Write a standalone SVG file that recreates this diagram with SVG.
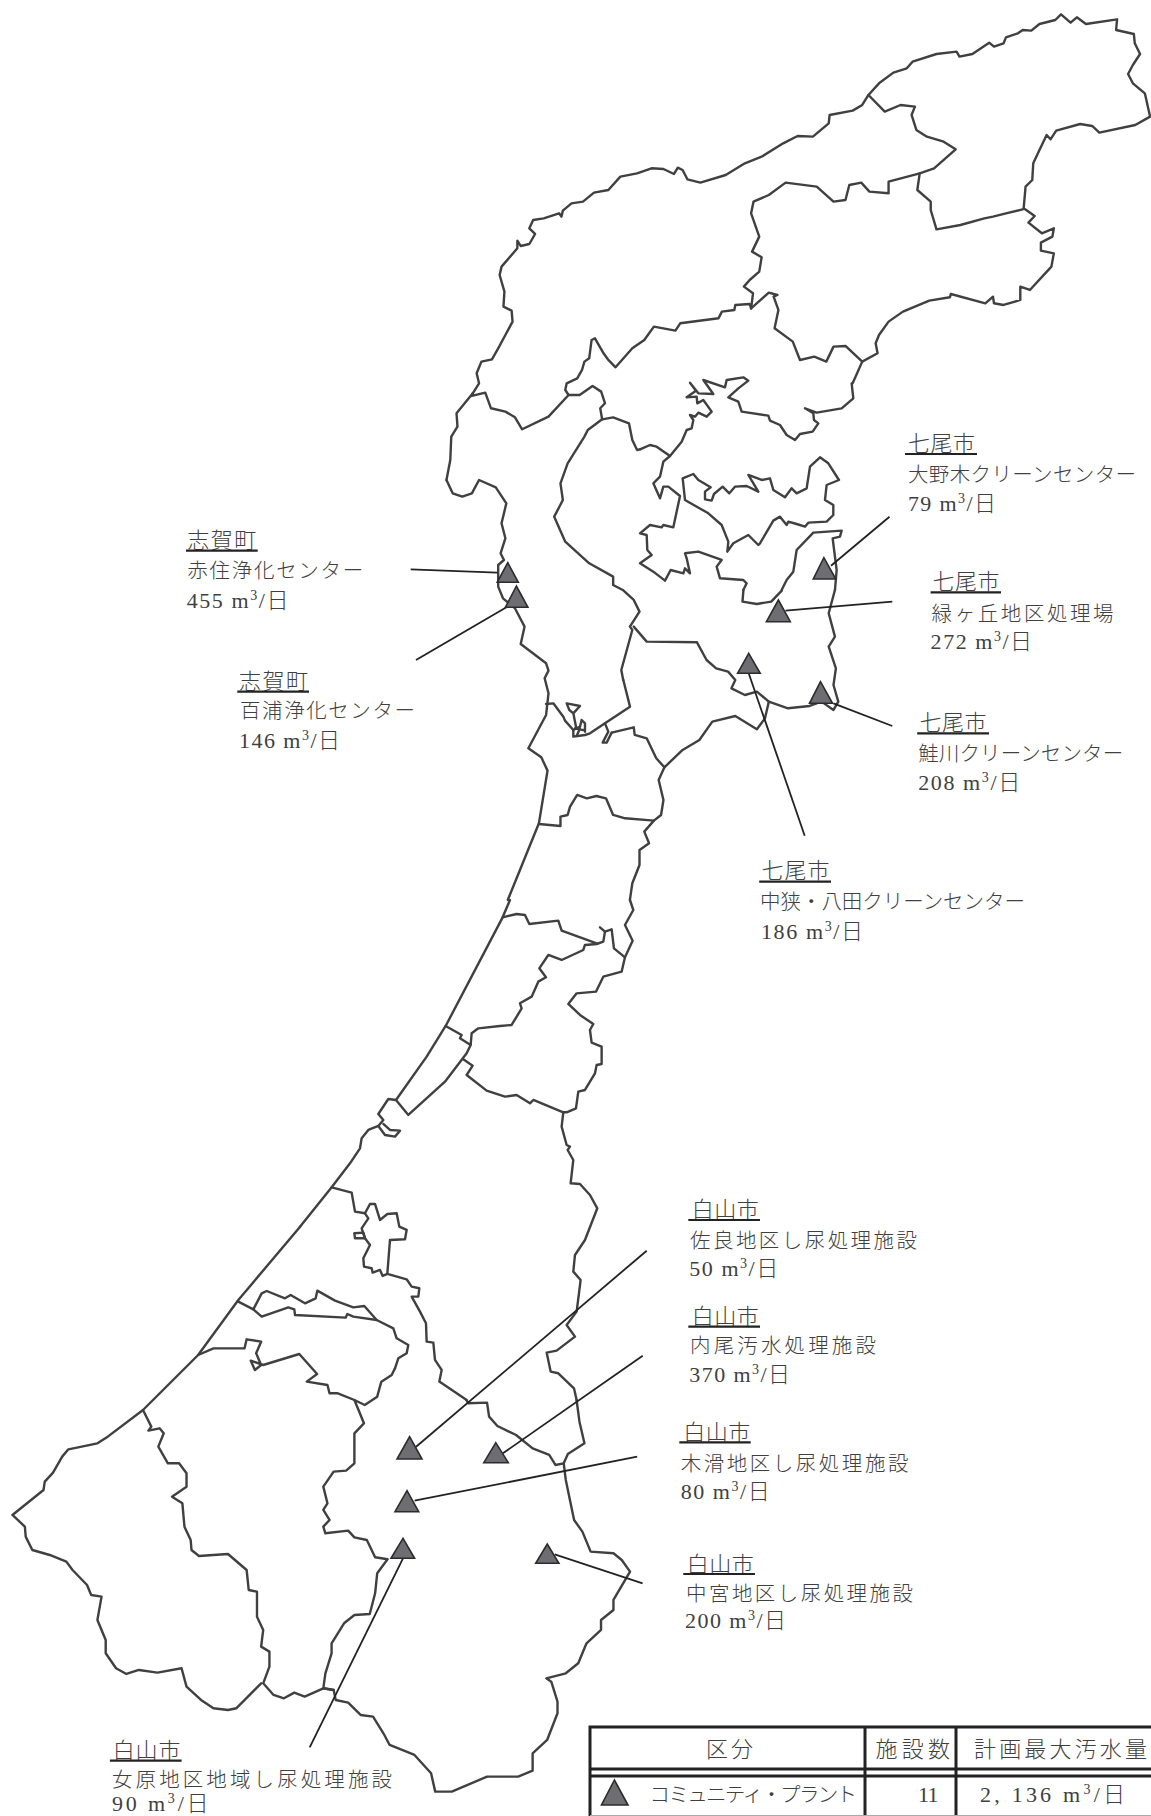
<svg xmlns="http://www.w3.org/2000/svg" width="1151" height="1816" viewBox="0 0 1151 1816">
<style>
.b{fill:none;stroke:#404040;stroke-width:2.4;stroke-linejoin:round;stroke-linecap:round;vector-effect:non-scaling-stroke}
.l{stroke:#222;stroke-width:1.8;fill:none}
.t{fill:#6e6e72;stroke:#2c2c2c;stroke-width:1.6;stroke-linejoin:miter}
.u{stroke:#222;stroke-width:2.2}
.g{stroke:#222;stroke-width:3;fill:none}
text{font-family:"Liberation Serif","Noto Sans CJK JP",serif;font-size:20.5px;font-weight:300;fill:#404040}
.h{font-size:22px}
.n{font-size:22px}
.s{font-size:14px}
</style>
<rect width="1151" height="1816" fill="#fff"/>
<g id="map">
<g transform="translate(400,0) scale(0.479,0.3333)">
<path class="b" d="M152,1180 L165,1150 L160,1120 L170,1085 L192,1078 L205,1045 L220,1005 L235,965 L233,932 L216,920 L218,875 L208,825 L212,800 L245,745 L245,722 L252,738 L270,732 L282,702 L270,685 L278,660 L300,655 L332,640 L337,650 L340,632 L358,610 L382,605 L405,578 L435,570 L460,530 L495,520 L525,505 L550,507 L572,522 L580,503 L590,510 L600,538 L627,548 L680,525 L720,490 L755,470 L800,430 L830,408 L862,410 L895,370 L897,345 L945,332 L965,315 L978,285 L1000,250 L1030,218 L1058,205 L1070,185 L1120,162 L1162,155 L1168,170 L1195,162 L1230,128 L1240,140 L1260,130 L1265,112 L1290,100 L1300,90 L1318,92 L1335,72 L1368,60 L1380,43 L1400,68 L1413,52 L1432,72 L1497,58 L1495,90 L1532,102 L1534,130 L1545,162 L1530,195 L1520,222 L1530,250 L1555,280 L1566,350 L1535,375 L1460,398 L1445,378 L1420,372 L1370,392 L1358,418 L1350,405 L1335,450 L1322,490 L1320,540 L1306,560 L1302,625 L1325,648 L1312,668 L1340,700 L1365,685 L1362,710 L1338,728 L1338,752 L1365,760 L1360,800 L1315,870 L1295,860 L1295,900 L1260,915 L1240,910 L1238,890 L1222,910 L1150,882 L1148,892 L1105,902 L1050,935 L1020,965 L1000,1005 L993,1030 L997,1060 L965,1085 L945,1150"/>
<path class="b" d="M978,285 L1012,335 L1045,315 L1075,320 L1068,345 L1078,390 L1100,410 L1135,425 L1160,448 L1115,505 L1085,520 L1080,570 L1108,605 L1108,630 L1120,688 L1170,675 L1220,655 L1238,650 L1265,640 L1300,628"/>
<path class="b" d="M1085,520 L1020,545 L1020,580 L980,575 L963,548 L938,555 L930,600 L905,605 L870,560 L805,548 L770,585 L738,605 L733,640 L750,710 L735,755 L755,772 L750,815 L730,840 L718,860 L737,880 L733,925"/>
<path class="b" d="M733,925 L730,912 L700,915 L698,930 L672,935 L665,955 L585,970 L575,992 L530,980 L510,1020 L485,1045 L450,1102 L435,1080 L425,1060 L407,1015 L400,1020 L395,1075 L385,1085 L380,1110 L370,1135 L348,1150 L345,1170 L352,1185"/>
<path class="b" d="M733,925 L770,878 L788,885 L780,890 L790,930 L782,985 L820,1025 L835,1080 L865,1070 L890,1085 L905,1040 L930,1038 L965,1085"/>
<path class="b" d="M152,1180 L150,1188 L178,1178 L190,1225 L220,1235 L240,1252 L255,1288 L310,1250 L352,1185 L375,1185 L402,1158 L420,1175 L428,1210 L418,1225 L422,1258"/>
<path class="b" d="M152,1180 L118,1240 L120,1280 L107,1310 L105,1380 L97,1440"/>
</g>
<g transform="translate(640,370) scale(0.3333)">
<path class="b" d="M635,40 L640,85 L605,115 L530,128 L495,115 L520,130 L522,150 L535,160 L518,185 L480,192 L465,210 L440,195 L420,165 L390,152 L385,137 L305,125 L295,95 L265,82 L295,55 L325,32 L310,22 L260,30 L255,52 L190,30 L220,72 L175,70 L150,38 L168,62 L140,82 L170,80 L172,100 L190,90 L215,125 L200,140 L175,128 L165,140 L150,135 L160,150 L155,175 L140,180 L125,215 L90,258"/>
<path class="b" d="M0,238 L30,225 L50,230 L90,258 L70,275 L60,320 L40,340 L60,385 L70,350 L85,350 L120,378 L100,472 L70,465 L65,472 L30,465 L0,490 L20,495 L22,540 L35,555 L0,580 L40,605 L75,632 L92,600 L130,610 L135,595 L150,610 L140,565 L135,550 L175,545 L245,570 L230,590 L240,625 L310,630 L320,640 L310,660"/>
<path class="b" d="M128,325 L160,312 L175,330 L212,352 L195,365 L195,388 L215,392 L222,372 L248,350 L268,370 L285,350 L320,348 L355,365 L325,315 L365,330 L390,325 L400,360 L435,382 L455,355 L470,370 L500,355 L510,290 L540,262 L565,280 L597,330 L560,345 L555,390 L580,405 L580,435 L560,455 L505,458 L495,470 L470,462 L445,455 L440,465 L420,440 L400,452 L360,520 L355,525 L325,495 L280,520 L262,545 L265,515 L245,465 L205,430 L135,390 Z"/>
<path class="b" d="M425,660 L440,630 L460,605 L470,540 L520,488 L605,482 L600,500 L578,505 L590,600 L585,660"/>
</g>
<g transform="translate(400,400) scale(0.479,0.3333)">
<path class="b" d="M97,240 L110,280 L130,290 L150,280 L165,240 L200,262 L222,310 L212,370 L220,415 L210,460 L217,480 L205,495 L205,560 L215,595 L240,625 L260,680 L252,732 L305,790 L310,812 L302,835 L310,880 L305,945 L268,1045 L295,1072 L308,1112 L290,1270 L225,1500"/>
<path class="b" d="M466,840 L462,810 L485,690 L480,680 L500,635 L488,600 L465,570 L445,555 L445,530 L395,490 L345,425 L322,350 L340,300 L335,250 L350,190 L385,110 L392,90 L422,58 L445,52 L478,70 L485,120 L495,150 L501,148"/>
<path class="b" d="M717,570 L715,605 L745,612 L775,605 L797,572"/>
<path class="b" d="M908,570 L895,640 L908,710 L895,740 L910,805 L905,855 L915,905 L905,930 L880,905 L855,918 L810,925 L770,905 L745,875 L720,885 L692,865 L700,840 L685,815 L660,805 L640,780 L620,727 L515,725 L488,680"/>
<path class="b" d="M770,905 L762,955 L745,988 L700,948 L652,965 L625,1020 L590,1050 L552,1102 L535,1075 L515,1015 L490,1005 L488,982 L442,998"/>
<path class="b" d="M552,1102 L540,1140 L550,1200 L545,1245 L530,1262 L510,1295 L520,1330 L500,1350 L500,1395 L485,1450 L480,1500"/>
<path class="b" d="M530,1262 L470,1255 L445,1245 L430,1195 L410,1188 L390,1195 L370,1185 L355,1220 L350,1245 L335,1250 L335,1278 L290,1272"/>
</g>
<g transform="translate(530,680) scale(0.3333)">
<path class="b" d="M48,72 L70,70 L100,110 L105,122 L130,150 L130,170 L165,165 L180,160 L225,130 L300,80 L280,0"/>
<path class="b" d="M110,70 L150,78 L130,100 L118,90 Z M130,100 L138,140 M130,150 L150,140 L155,120 L165,130 L165,155 M135,145 L160,150 M140,168 L150,145"/>
<path class="b" d="M225,130 L235,155 L218,188 L230,188 L245,158"/>
</g>
<g transform="translate(300,900) scale(0.3333)">
<path class="b" d="M630,0 L608,52 L437,378 L380,470 L288,600 L265,597 L235,642 L250,660 L235,678 L205,690 L185,715 L180,745 L150,790 L95,862 L0,980"/>
<path class="b" d="M608,52 L650,42 L675,45 L688,72 L775,62 L785,92 L890,130"/>
<path class="b" d="M900,82 L915,95 L935,88 L942,145 L975,172"/>
<path class="b" d="M915,95 L910,125 L890,132 L855,135 L850,150 L785,180 L745,165 L718,205 L738,232 L715,245 L695,290 L660,310 L665,325 L635,375 L600,378 L535,385 L515,400 L512,435 L480,415 L485,405 L437,378"/>
<path class="b" d="M512,435 L500,460 L435,545 L325,645 L288,600"/>
<path class="b" d="M990,0 L1000,30 L975,75 L998,122 L975,172 L965,215 L910,230 L888,275 L830,280 L805,312 L840,345 L880,372 L870,390 L875,428 L905,440 L905,492 L890,495 L885,520 L855,570 L835,575 L828,625 L800,637 L790,637"/>
<path class="b" d="M490,478 L518,497 L500,525 L560,572 L615,590 L650,585 L690,610 L700,600 L790,637 L785,680 L800,735 L810,740 L803,750 L820,780 L812,850 L840,852 L870,885 L892,925 L855,1020 L825,1065 L820,1115 L842,1140 L830,1235 L800,1275 L825,1310 L770,1352 L740,1358 L752,1415 L775,1420 L822,1465 L830,1500"/>
<path class="b" d="M235,678 L255,705 L285,710 L300,692 L270,690 L250,672"/>
<path class="b" d="M95,862 L155,878 L165,935 L195,940 L210,912 L225,912 L240,960 L262,942 L290,940 L298,980 L320,990 L315,1018 L270,1020 L262,1122 L320,1138 L335,1160 L358,1165 L355,1190 L335,1190 L360,1235 L378,1270 L380,1325 L400,1328 L405,1380 L425,1410 L418,1445 L500,1500"/>
<path class="b" d="M195,940 L205,955 L185,985 L195,1015 L210,1035 L190,1075 L192,1100 L215,1105 L218,1118 L240,1110 L248,1128 L262,1122"/>
<path class="b" d="M163,1000 L190,998 L195,1015 L165,1015 Z"/>
</g>
<g transform="translate(0,1300) scale(0.4145,0.3333)">
<path class="b" d="M724,-220 L575,0 L478,165 L345,330 L260,410 L235,430 L165,448 L150,470 L128,518 L108,545 L105,570 L30,645 L60,680 L62,710 L78,750 L120,765 L160,785 L175,810 L210,855 L220,885 L245,890 L235,960 L255,1020 L255,1060 L280,1105 L305,1122 L335,1110 L380,1118 L438,1105 L450,1160 L485,1200 L515,1225 L550,1230 L570,1225 L630,1150"/>
<path class="b" d="M345,330 L365,380 L358,392 L385,385 L395,400 L382,440 L405,490 L432,490 L450,520 L450,560 L415,590 L440,610 L445,680 L460,720 L462,750 L480,768 L550,762 L595,810 L600,870 L620,875 L620,950 L635,990 L630,1040 L650,1055 L650,1100 L635,1150 L660,1185 L685,1195 L710,1178 L735,1190 L780,1165 L805,1170 L810,1200 L840,1208 L870,1245 L900,1250 L925,1300 L940,1335 L1000,1365 L1040,1420 L1050,1475 L1090,1475 L1175,1430 L1250,1430 L1285,1412 L1285,1360 L1320,1320 L1345,1240 L1345,1205 L1330,1145 L1318,1135 L1365,1120 L1395,1090 L1415,1030 L1450,990 L1450,960 L1480,930 L1480,900 L1520,815 L1500,780 L1480,760 L1425,755 L1405,695 L1385,660 L1375,600 L1365,540 L1360,490 L1370,462 L1410,430 L1398,365 L1391,300"/>
<path class="b" d="M1125,300 L1130,310 L1175,308 L1180,350 L1200,378 L1245,405 L1285,445 L1325,465 L1340,495 L1360,490"/>
<path class="b" d="M805,1170 L780,1165 L785,1120 L800,1060 L800,1030 L830,970 L855,945 L892,942 L905,880 L910,820 L935,778 L905,772 L885,720 L855,712 L840,692 L785,700 L780,680 L795,660 L780,630 L790,610 L780,560 L805,515 L835,512 L855,490 L855,400 L878,370 L865,330 L855,300 L880,315 L910,290 L920,245 L945,225 L953,205"/>
<path class="b" d="M478,165 L515,145 L590,145 L595,118 L630,125 L618,160 L630,195 L615,210 L605,182 L635,195 L722,162 L765,222 L740,245 L790,255 L795,280 L815,280 L855,300"/>
</g>
<g transform="translate(225,1270) scale(0.3333)">
<path class="b" d="M40,95 L85,118 L110,70 L125,63 L180,85 L197,75 L240,100 L272,85 L277,62 L330,92 L385,112 L418,108 L455,150"/>
<path class="b" d="M85,118 L110,140 L190,112 L208,118 L210,135 L362,143 L367,132 L385,140 L455,150 L505,175 L515,205 L550,225 L545,250 L520,265 L510,295"/>
</g>
</g>
<g id="connectors">
<line class="l" x1="410.7" y1="569.3" x2="497.3" y2="572.7"/>
<line class="l" x1="416" y1="660" x2="507.3" y2="606.7"/>
<line class="l" x1="889.5" y1="516.7" x2="831" y2="565.7"/>
<line class="l" x1="892.3" y1="601.7" x2="785.5" y2="610.7"/>
<line class="l" x1="892.3" y1="726" x2="833.4" y2="703.3"/>
<line class="l" x1="804.7" y1="835.7" x2="748.7" y2="673.3"/>
<line class="l" x1="646.7" y1="1250.7" x2="415.8" y2="1447"/>
<line class="l" x1="642.7" y1="1355.7" x2="502.9" y2="1453.3"/>
<line class="l" x1="637.2" y1="1456.7" x2="414.6" y2="1500.7"/>
<line class="l" x1="642.6" y1="1583.3" x2="554.7" y2="1554.3"/>
<line class="l" x1="309.7" y1="1747.3" x2="403" y2="1558.3"/>
</g>
<g id="node-oonogi">
<polygon class="t" points="823.9,557.7 813.3,579 835.8,579"/>
<text class="h" x="908" y="451" textLength="67">七尾市</text><line class="u" x1="905" x2="977" y1="454" y2="454"/>
<text x="908" y="482" textLength="228">大野木クリーンセンター</text>
<text class="n" x="908" y="511" textLength="88">79 m<tspan class="s" dy="-8">3</tspan><tspan dy="8">/日</tspan></text>
</g>
<g id="node-midorigaoka">
<polygon class="t" points="778.4,600 766.4,621.7 790.3,621.7"/>
<text class="h" x="932.6" y="589" textLength="67">七尾市</text><line class="u" x1="930.6" x2="1001" y1="592.3" y2="592.3"/>
<text x="931.6" y="620.7" textLength="182">緑ヶ丘地区処理場</text>
<text class="n" x="930.6" y="649" textLength="101.5">272 m<tspan class="s" dy="-8">3</tspan><tspan dy="8">/日</tspan></text>
</g>
<g id="node-samekawa">
<polygon class="t" points="820.5,681.7 809.5,703.3 832.5,703.3"/>
<text class="h" x="919.6" y="730" textLength="67">七尾市</text><line class="u" x1="917.2" x2="989" y1="733.3" y2="733.3"/>
<text x="918.2" y="761" textLength="205">鮭川クリーンセンター</text>
<text class="n" x="918.2" y="790" textLength="102">208 m<tspan class="s" dy="-8">3</tspan><tspan dy="8">/日</tspan></text>
</g>
<g id="node-nakasai">
<polygon class="t" points="748.7,653.3 737.6,673.3 760.2,673.3"/>
<text class="h" x="761.6" y="878" textLength="68">七尾市</text><line class="u" x1="759.2" x2="831" y1="881.7" y2="881.7"/>
<text x="760" y="909" textLength="265">中狭・八田クリーンセンター</text>
<text class="n" x="761" y="939" textLength="102">186 m<tspan class="s" dy="-8">3</tspan><tspan dy="8">/日</tspan></text>
</g>
<g id="node-akasumi">
<polygon class="t" points="507.8,562.7 497.2,582.3 518.3,582.3"/>
<text class="h" x="187.3" y="548" textLength="69">志賀町</text><line class="u" x1="186" x2="257.7" y1="550.7" y2="550.7"/>
<text x="187.3" y="578" textLength="176">赤住浄化センター</text>
<text class="n" x="186.7" y="607.7" textLength="101.7">455 m<tspan class="s" dy="-8">3</tspan><tspan dy="8">/日</tspan></text>
</g>
<g id="node-momoura">
<polygon class="t" points="516.4,586 505.4,607.3 527.9,607.3"/>
<text class="h" x="239" y="689" textLength="69">志賀町</text><line class="u" x1="237.3" x2="309" y1="691.7" y2="691.7"/>
<text x="240" y="718.3" textLength="175">百浦浄化センター</text>
<text class="n" x="239" y="748" textLength="101">146 m<tspan class="s" dy="-8">3</tspan><tspan dy="8">/日</tspan></text>
</g>
<g id="node-sara">
<polygon class="t" points="409.6,1436.7 397,1459 422,1459"/>
<text class="h" x="691.7" y="1217" textLength="67">白山市</text><line class="u" x1="688.3" x2="760" y1="1220" y2="1220"/>
<text x="690" y="1248" textLength="227">佐良地区し尿処理施設</text>
<text class="n" x="689.3" y="1275.7" textLength="89">50 m<tspan class="s" dy="-8">3</tspan><tspan dy="8">/日</tspan></text>
</g>
<g id="node-uchio">
<polygon class="t" points="495.8,1442.7 483.8,1462.7 508.3,1462.7"/>
<text class="h" x="691.7" y="1324" textLength="67">白山市</text><line class="u" x1="688.3" x2="760" y1="1326.7" y2="1326.7"/>
<text x="690" y="1353" textLength="186">内尾汚水処理施設</text>
<text class="n" x="689.3" y="1381.7" textLength="100.7">370 m<tspan class="s" dy="-8">3</tspan><tspan dy="8">/日</tspan></text>
</g>
<g id="node-kinameri">
<polygon class="t" points="407,1490.7 395,1511.7 418.7,1511.7"/>
<text class="h" x="683.3" y="1440" textLength="67">白山市</text><line class="u" x1="679.3" x2="750.7" y1="1442.3" y2="1442.3"/>
<text x="680.7" y="1470.7" textLength="227.7">木滑地区し尿処理施設</text>
<text class="n" x="680.7" y="1499" textLength="89">80 m<tspan class="s" dy="-8">3</tspan><tspan dy="8">/日</tspan></text>
</g>
<g id="node-chugu">
<polygon class="t" points="547.3,1544 535.7,1563.3 558.9,1563.3"/>
<text class="h" x="686.7" y="1571.5" textLength="67">白山市</text><line class="u" x1="683.3" x2="755" y1="1574" y2="1574"/>
<text x="686" y="1600.7" textLength="227">中宮地区し尿処理施設</text>
<text class="n" x="685" y="1628.3" textLength="101">200 m<tspan class="s" dy="-8">3</tspan><tspan dy="8">/日</tspan></text>
</g>
<g id="node-onnabara">
<polygon class="t" points="403,1538.3 391,1558.3 414.6,1558.3"/>
<text class="h" x="112.8" y="1758" textLength="67.6">白山市</text><line class="u" x1="109.9" x2="181.6" y1="1760.7" y2="1760.7"/>
<text x="112" y="1787" textLength="280">女原地区地域し尿処理施設</text>
<text class="n" x="112" y="1811" textLength="96.6">90 m<tspan class="s" dy="-8">3</tspan><tspan dy="8">/日</tspan></text>
</g>
<g id="legend-table">
<path class="g" d="M590,1816 V1727 H1151 M865,1727 V1816 M956,1727 V1816 M590,1769 H1151 M590,1776 H1151"/>
<line x1="590" x2="1151" y1="1815.5" y2="1815.5" stroke="#aaa" stroke-width="1"/>
<polygon class="t" points="614.4,1780 601.5,1805 628,1805"/>
<text class="h" x="706" y="1757" textLength="47">区分</text>
<text class="h" x="875.5" y="1757" textLength="74.5">施設数</text>
<text class="h" x="974" y="1757" textLength="173">計画最大汚水量</text>
<text x="649.6" y="1802" textLength="207.4">コミュニティ・プラント</text>
<text class="n" x="918" y="1802" textLength="20.5">11</text>
<text class="n" x="980" y="1802" textLength="145">2, 136 m<tspan class="s" dy="-8">3</tspan><tspan dy="8">/日</tspan></text>
</g>
</svg>
